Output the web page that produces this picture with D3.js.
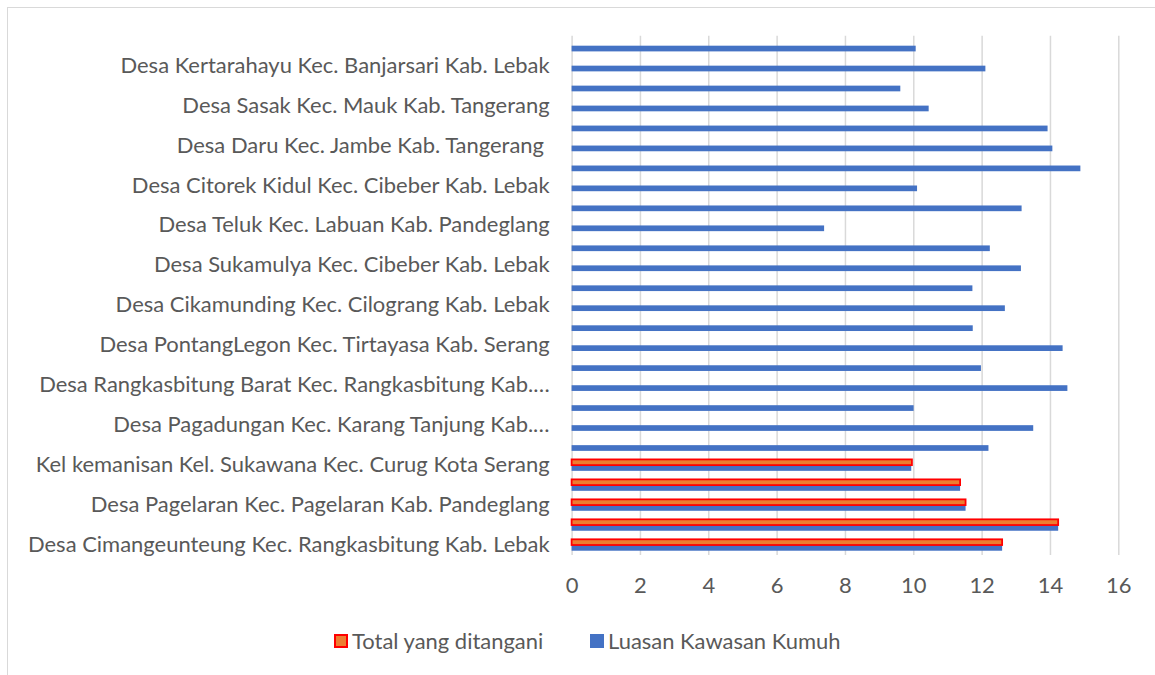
<!DOCTYPE html>
<html lang="en">
<head>
<meta charset="UTF-8">
<script src="https://cdn.jsdelivr.net/npm/d3@7"></script>
<style>
    body { margin: 0; background: white; }
    svg, svg text { font-family: Lato, "Open Sans", sans-serif; }
    .cat text { white-space: pre; }
</style>
</head>
<body>
<div id="chart"></div>
<script>
    // categories from bottom to top, only every other one shows its label
    const categories = [
        "Desa Cimangeunteung Kec. Rangkasbitung Kab. Lebak", "",
        "Desa Pagelaran Kec. Pagelaran Kab. Pandeglang", "",
        "Kel kemanisan Kel. Sukawana Kec. Curug Kota Serang", "",
        "Desa Pagadungan Kec. Karang Tanjung Kab.…", "",
        "Desa Rangkasbitung Barat Kec. Rangkasbitung Kab.…", "",
        "Desa PontangLegon Kec. Tirtayasa Kab. Serang", "",
        "Desa Cikamunding Kec. Cilograng Kab. Lebak", "",
        "Desa Sukamulya Kec. Cibeber Kab. Lebak", "",
        "Desa Teluk Kec. Labuan Kab. Pandeglang", "",
        "Desa Citorek Kidul Kec. Cibeber Kab. Lebak", "",
        "Desa Daru Kec. Jambe Kab. Tangerang ", "",
        "Desa Sasak Kec. Mauk Kab. Tangerang", "",
        "Desa Kertarahayu Kec. Banjarsari Kab. Lebak", ""
    ];
    const luasan = [12.6, 14.24, 11.53, 11.37, 9.94, 12.2, 13.51, 10.01, 14.51, 11.98,
        14.37, 11.74, 12.68, 11.73, 13.15, 12.24, 7.39, 13.17, 10.11, 14.89,
        14.07, 13.93, 10.45, 9.62, 12.11, 10.07];
    const ditangani = [12.6, 14.24, 11.53, 11.37, 9.96];
    const xTicks = [0, 2, 4, 6, 8, 10, 12, 14, 16];
    const seriesNames = ["Total yang ditangani", "Luasan Kawasan Kumuh"];

    const W = 1155, H = 675;
    const plot = { left: 571.6, right: 1118.3, top: 35.7, bottom: 555 };
    const textColor = "#595959", gridColor = "#d9d9d9";

    const svg = d3.select("#chart").append("svg")
        .attr("width", W).attr("height", H);

    // chart frame
    svg.append("rect")
        .attr("x", 7.5).attr("y", 7.5)
        .attr("width", W + 20).attr("height", H + 20)
        .attr("fill", "none").attr("stroke", gridColor);

    const x = d3.scaleLinear().domain([0, 16]).range([plot.left, plot.right]);
    const y = d3.scaleBand().domain(d3.range(categories.length))
        .range([plot.bottom, plot.top]);
    const sub = d3.scaleBand().domain(["ditangani", "luasan"])
        .range([0, y.bandwidth()]).paddingOuter(0.75);

    // font size: fit the first label into the space left of the axis
    const probe = svg.append("text").attr("font-size", 20).text(categories[0]);
    const fontSize = 20 * 522 / probe.node().getComputedTextLength();
    probe.remove();

    // gridlines
    svg.append("g")
        .attr("transform", `translate(0, ${plot.bottom})`)
        .call(d3.axisBottom(x).tickValues(xTicks).tickSize(-(plot.bottom - plot.top)).tickFormat(""))
        .call(g => g.select(".domain").remove())
        .call(g => g.selectAll("line").attr("stroke", gridColor).attr("stroke-width", 1.5));

    // x tick labels
    svg.append("g")
        .attr("transform", `translate(0, ${plot.bottom})`)
        .call(d3.axisBottom(x).tickValues(xTicks).tickSize(0).tickPadding(22))
        .call(g => g.attr("font-family", null).attr("font-size", fontSize))
        .call(g => g.select(".domain").remove())
        .call(g => g.selectAll("text").attr("fill", textColor));

    // category labels
    svg.append("g")
        .attr("class", "cat")
        .attr("transform", `translate(${plot.left}, 0)`)
        .call(d3.axisLeft(y).tickSize(0).tickPadding(22).tickFormat(i => categories[i]))
        .call(g => g.attr("font-family", null).attr("font-size", fontSize))
        .call(g => g.select(".domain").remove())
        .call(g => g.selectAll("text").attr("fill", textColor));

    // bars
    svg.append("g").selectAll("rect")
        .data(luasan)
        .join("rect")
        .attr("x", x(0))
        .attr("y", (d, i) => y(i) + sub("luasan"))
        .attr("width", d => x(d) - x(0))
        .attr("height", sub.bandwidth())
        .attr("fill", "#4472c4");

    svg.append("g").selectAll("rect")
        .data(ditangani)
        .join("rect")
        .attr("x", x(0))
        .attr("y", (d, i) => y(i) + sub("ditangani"))
        .attr("width", d => x(d) - x(0))
        .attr("height", sub.bandwidth())
        .attr("fill", "#ed7d31")
        .attr("stroke", "#ff0000")
        .attr("stroke-width", 1.8);

    // legend
    const legend = svg.append("g").attr("transform", "translate(0, 641)");
    const items = [
        { name: seriesNames[0], x: 334, fill: "#ed7d31", stroke: "#ff0000" },
        { name: seriesNames[1], x: 590, fill: "#4472c4", stroke: null }
    ];
    const li = legend.selectAll("g").data(items).join("g")
        .attr("transform", d => `translate(${d.x}, 0)`);
    li.append("rect")
        .attr("x", d => d.stroke ? 1 : 0).attr("y", d => d.stroke ? -6 : -7)
        .attr("width", d => d.stroke ? 12 : 14).attr("height", d => d.stroke ? 12 : 14)
        .attr("fill", d => d.fill)
        .attr("stroke", d => d.stroke)
        .attr("stroke-width", 2);
    li.append("text")
        .attr("x", 18).attr("dy", "0.35em")
        .attr("font-size", fontSize)
        .attr("fill", textColor)
        .text(d => d.name);
</script>
</body>
</html>
